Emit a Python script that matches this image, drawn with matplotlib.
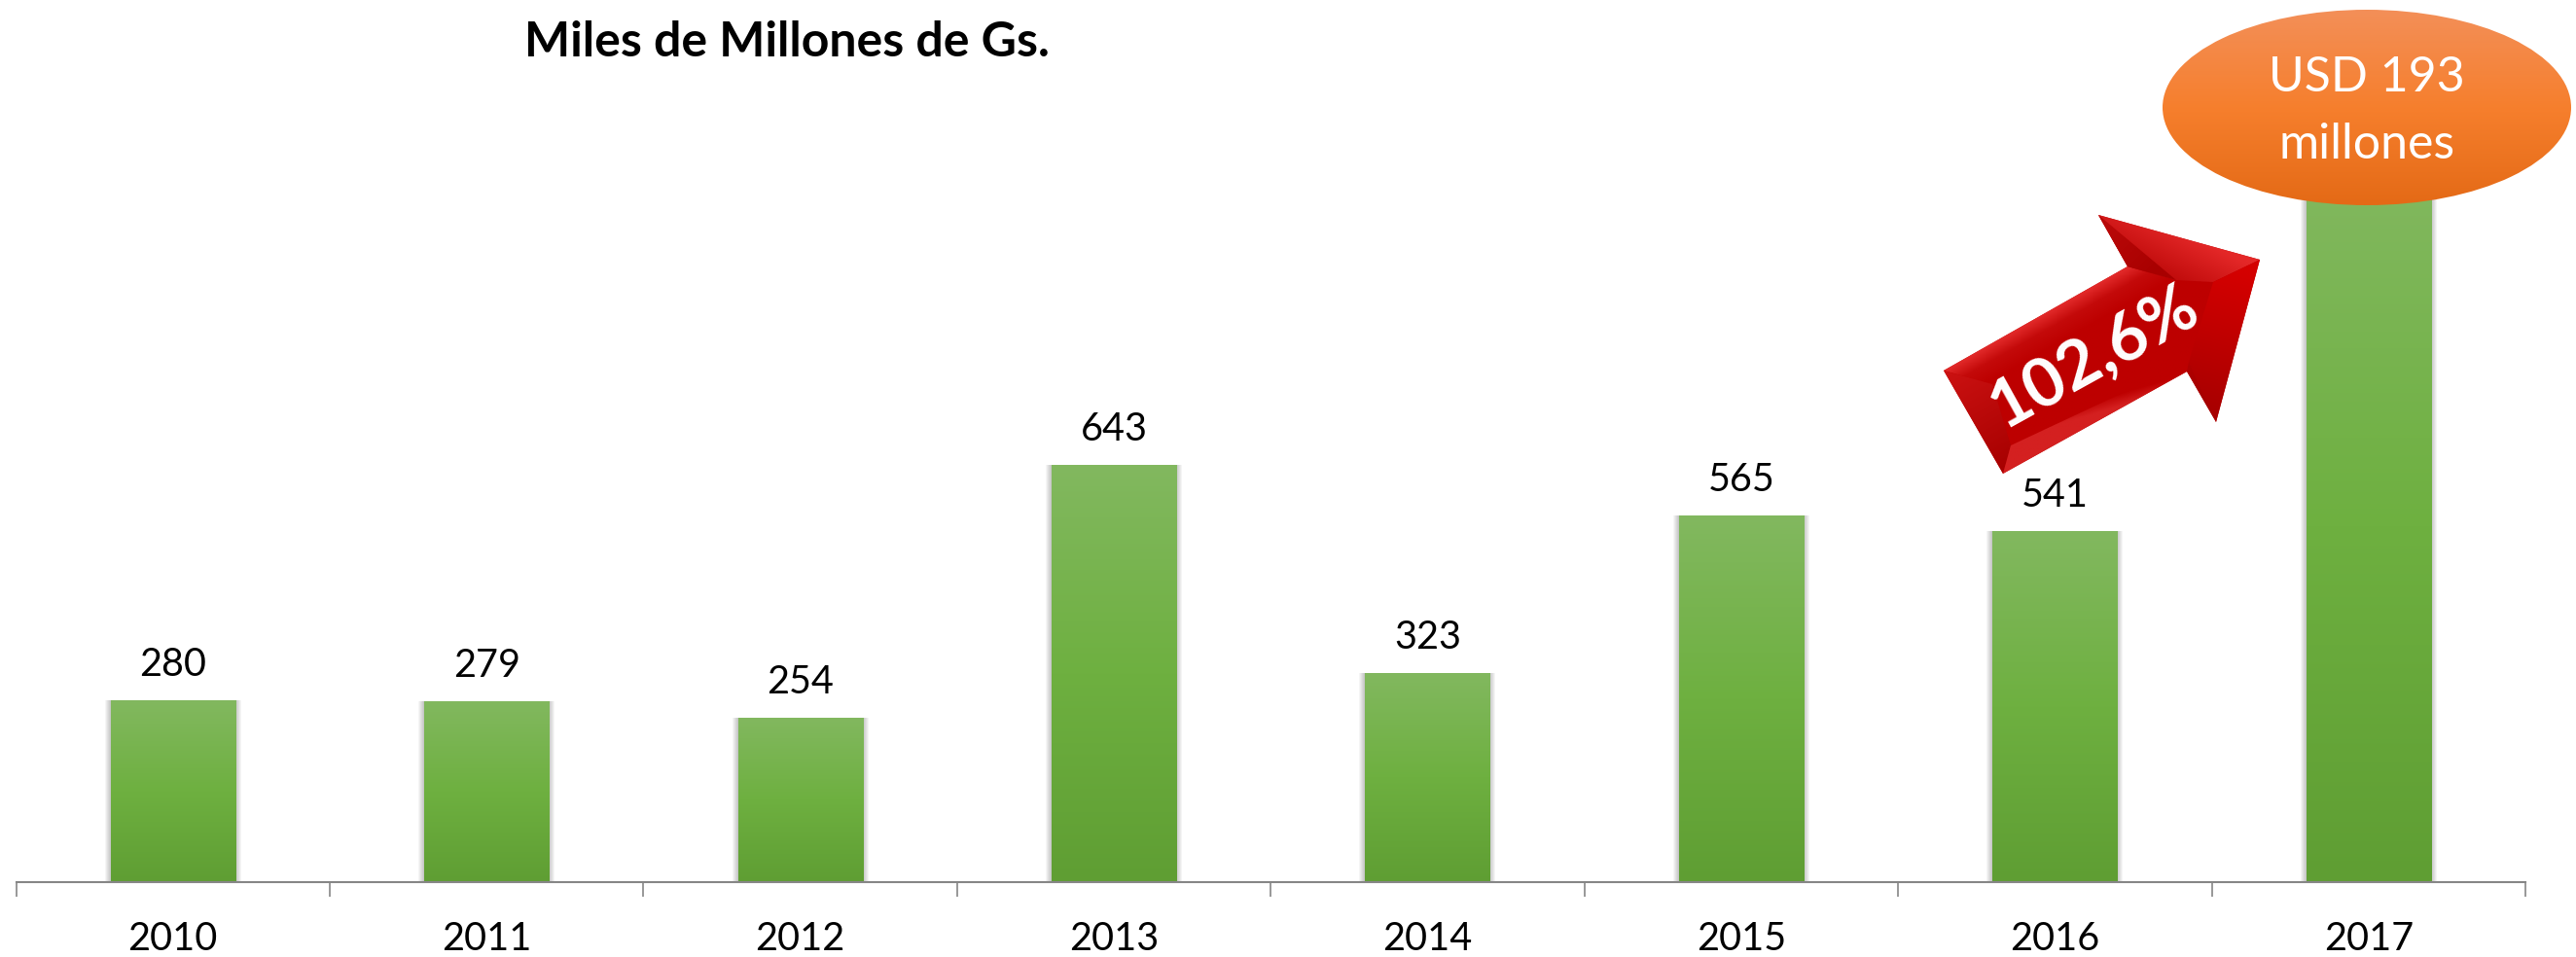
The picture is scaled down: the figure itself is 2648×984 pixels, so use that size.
import numpy as np
import matplotlib
matplotlib.use("Agg")
import matplotlib.pyplot as plt
from matplotlib.colors import LinearSegmentedColormap
from matplotlib.patches import Ellipse, Polygon

plt.rcParams['font.family'] = ['Lato', 'DejaVu Sans']

# donnees
annees = ['2010', '2011', '2012', '2013', '2014', '2015', '2016', '2017']
valeurs = [280, 279, 254, 643, 323, 565, 541, 1096]
etiquettes = ['280', '279', '254', '643', '323', '565', '541', '']
titre = 'Miles de Millones de Gs.'
bulle = ['USD 193', 'millones']
hausse = '102,6%'

W, H = 2648, 984
fig = plt.figure(figsize=(W / 100, H / 100), dpi=100)

ax = fig.add_axes([16.5 / W, (H - 907) / H, (2596 - 16.5) / W, 907 / H])
ax.patch.set_alpha(0)
ax.set_xlim(-0.5, 7.5)
ax.set_ylim(0, 907 / 0.667)

x = np.arange(len(annees))
largeur = 128 / 322.4
vert = LinearSegmentedColormap.from_list('vert', ['#5f9e33', '#6eb040', '#82b85f'])

# ombre douce autour des barres
for i in range(1, 7):
    ax.bar(x, valeurs, width=largeur + 2 * i / 322.4, color='black', alpha=0.04,
           linewidth=0, zorder=1, clip_on=False)

barres = ax.bar(x, valeurs, width=largeur, color='#6fb142', linewidth=0, zorder=2)
for b in barres:
    im = ax.imshow(np.linspace(1, 0, 256).reshape(-1, 1), cmap=vert, vmin=0, vmax=1, aspect='auto',
                   extent=[b.get_x(), b.get_x() + b.get_width(), 0, b.get_height()], zorder=2.1)
    im.set_clip_path(b)
ax.set_xlim(-0.5, 7.5)
ax.set_ylim(0, 907 / 0.667)

ax.bar_label(barres, labels=etiquettes, padding=13, fontsize=28.5, color='black', zorder=5)

for s in ['top', 'left', 'right']:
    ax.spines[s].set_visible(False)
ax.spines['bottom'].set_color('#868686')
ax.spines['bottom'].set_linewidth(1.5)
ax.spines['bottom'].set_zorder(4)
ax.set_yticks([])
ax.set_xticks(np.arange(-0.5, 8, 1))
ax.set_xticklabels([])
ax.tick_params(axis='x', which='major', length=10.8, width=1.2, color='#868686')
ax.set_xticks(x, minor=True)
ax.set_xticklabels(annees, minor=True, fontsize=28.5, color='black')
ax.tick_params(axis='x', which='minor', length=0, pad=29)

# calque en pixels pour le titre, la bulle et la fleche
ov = fig.add_axes([0, 0, 1, 1])
ov.set_xlim(0, W)
ov.set_ylim(H, 0)
ov.axis('off')
ov.patch.set_alpha(0)


def degrade(patch, couleurs, p0, p1, z):
    # remplit le patch avec un degrade le long de p0 -> p1
    ov.add_patch(patch)
    patch.set_zorder(z)
    patch.set_facecolor('none')
    patch.set_edgecolor('none')
    ext = patch.get_extents().transformed(ov.transData.inverted())
    x0, x1 = sorted([ext.x0, ext.x1])
    y0, y1 = sorted([ext.y0, ext.y1])
    xx, yy = np.meshgrid(np.linspace(x0, x1, 200), np.linspace(y0, y1, 200))
    d = np.array(p1, float) - np.array(p0, float)
    t = ((xx - p0[0]) * d[0] + (yy - p0[1]) * d[1]) / (d @ d)
    cm = LinearSegmentedColormap.from_list('g', couleurs)
    im = ov.imshow(np.clip(t, 0, 1), cmap=cm, vmin=0, vmax=1, aspect='auto', origin='upper',
                   extent=[x0, x1, y1, y0], zorder=z, interpolation='bilinear')
    im.set_clip_path(patch)
    ov.set_xlim(0, W)
    ov.set_ylim(H, 0)


# bulle orange
degrade(Ellipse((2433, 110.5), 420, 201), ['#f38f58', '#f67f2d', '#e46a16'], (2433, 10), (2433, 211), 6)
ov.text(2433, 80, bulle[0], color='white', fontsize=36, ha='center', va='center', zorder=7)
ov.text(2433, 149, bulle[1], color='white', fontsize=36, ha='center', va='center', zorder=7)

# fleche rouge
A, B = (1998, 381), (2059, 487)
col_bas, tete_bas = (2248, 382), (2278, 434)
pointe, tete_haut, col_haut = (2323, 267), (2157, 221), (2187, 274)
iA, iB = (2048, 395), (2067, 458)
iC, iD, iE = (2237, 288), (2275, 290), (2250, 372)

degrade(Polygon([A, B, col_bas, tete_bas, pointe, tete_haut, col_haut]),
        ['#bd0000', '#bd0000'], A, B, 6)
degrade(Polygon([A, col_haut, iC, iA]), ['#e83030', '#c40a0a', '#bd0000'], (2104, 318), (2122, 350), 6.1)
degrade(Polygon([A, iA, iB, B]), ['#cc1212', '#a60000'], A, B, 6.1)
degrade(Polygon([B, iB, iE, col_bas]), ['#bd0000', '#bd0000', '#d42020'], (2150, 400), (2157, 424), 6.1)
degrade(Polygon([tete_haut, pointe, iD, iC, col_haut]), ['#e42828', '#bc0808'], (2250, 240), (2225, 290), 6.1)
degrade(Polygon([tete_haut, iC, col_haut]), ['#b80808', '#a80000'], (2170, 235), (2215, 280), 6.2)
degrade(Polygon([pointe, tete_bas, iE, iD]), ['#d40000', '#a80000'], (2300, 280), (2262, 420), 6.1)
degrade(Polygon([col_bas, iE, tete_bas]), ['#b00000', '#a00000'], (2250, 372), (2270, 430), 6.2)

ov.text(2153, 367, hausse, color='white', fontsize=50, fontweight='bold', rotation=29,
        rotation_mode='anchor', ha='center', va='center', zorder=8)

ov.text(539, 44, titre, color='black', fontsize=36, fontweight='bold', ha='left', va='center', zorder=8)

fig.savefig('out.png', dpi=100, facecolor='white')
